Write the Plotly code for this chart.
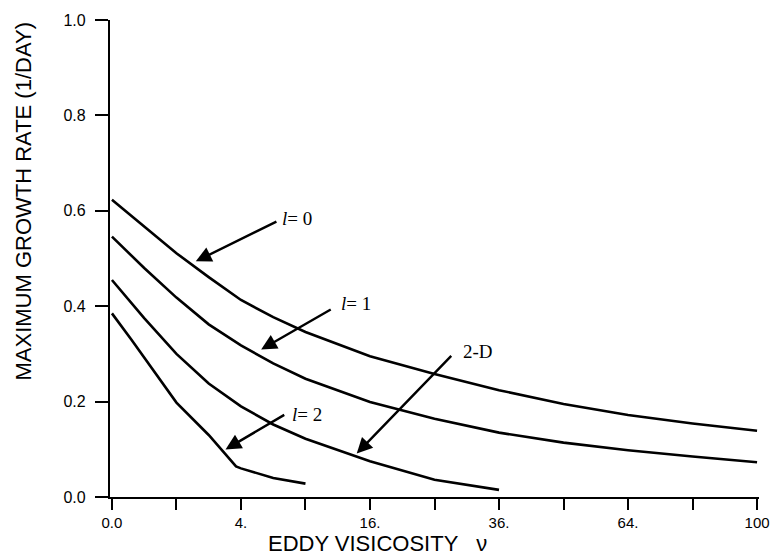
import numpy as np
import plotly.graph_objects as go

# Eddy viscosity values (nu) at which curves are read
nu_main = [0, 0.25, 1, 2.25, 4, 6.25, 9, 16, 25, 36, 49, 64, 81, 100]
rate_l0 = [0.623, 0.568, 0.511, 0.461, 0.413, 0.377, 0.346, 0.295, 0.258, 0.224, 0.195, 0.172, 0.154, 0.139]
rate_l1 = [0.546, 0.480, 0.418, 0.362, 0.318, 0.280, 0.248, 0.199, 0.164, 0.135, 0.114, 0.098, 0.085, 0.073]
nu_2d = [0, 0.25, 1, 2.25, 4, 6.25, 9, 16, 25, 36]
rate_2d = [0.455, 0.375, 0.300, 0.238, 0.190, 0.152, 0.122, 0.075, 0.036, 0.015]
nu_l2 = [0, 0.09, 1, 2.25, 3.7, 4, 6.25, 9]
rate_l2 = [0.385, 0.330, 0.198, 0.130, 0.064, 0.060, 0.040, 0.028]

x_tick_nu = [0, 1, 4, 9, 16, 25, 36, 49, 64, 81, 100]
x_tick_text = ["0.0", "", "4.", "", "16.", "", "36.", "", "64.", "", "100"]
y_tick_vals = [0.0, 0.2, 0.4, 0.6, 0.8, 1.0]
y_tick_text = ["0.0", "0.2", "0.4", "0.6", "0.8", "1.0"]

# label annotations: (text, nu, rate) for text; arrows: tail (nu, rate) -> head (nu, rate)
labels = [("<i>l</i>= 0", 6.76, 0.583), ("<i>l</i>= 1", 12.39, 0.405),
          ("<i>l</i>= 2", 7.62, 0.174), ("2-D", 29.2, 0.305)]
arrows = [((6.62, 0.579), (1.69, 0.494)),
          ((11.66, 0.395), (5.35, 0.309)),
          ((7.26, 0.174), (3.10, 0.0997)),
          ((27.9, 0.299), (14.4, 0.091))]

sq = lambda v: np.sqrt(np.asarray(v, dtype=float))

fig = go.Figure()
line = dict(color="black", width=2.6)
for nu, r in [(nu_main, rate_l0), (nu_main, rate_l1), (nu_2d, rate_2d), (nu_l2, rate_l2)]:
    fig.add_trace(go.Scatter(x=sq(nu), y=r, mode="lines", line=line, showlegend=False,
                             hoverinfo="skip"))

annotations = []
for t, n, r in labels:
    annotations.append(dict(text=t, x=float(np.sqrt(n)), y=r, xref="x", yref="y",
                            showarrow=False, xanchor="left", yanchor="middle",
                            font=dict(family="Liberation Serif", size=19, color="black")))
for (tn, tr), (hn, hr) in arrows:
    annotations.append(dict(text="", x=float(np.sqrt(hn)), y=hr, ax=float(np.sqrt(tn)), ay=tr,
                            xref="x", yref="y", axref="x", ayref="y", showarrow=True,
                            arrowhead=2, arrowsize=1.3, arrowwidth=2.4, arrowcolor="black",
                            standoff=0, startstandoff=0))

annotations.append(dict(text="MAXIMUM GROWTH RATE (1/DAY)", textangle=-90,
                        x=-0.134, y=0.6195, xref="paper", yref="paper", showarrow=False,
                        xanchor="center", yanchor="middle",
                        font=dict(family="Liberation Sans", size=22, color="black")))
annotations.append(dict(text="EDDY VISICOSITY   \u03bd",
                        x=0.4125, y=-0.0977, xref="paper", yref="paper", showarrow=False,
                        xanchor="center", yanchor="middle",
                        font=dict(family="Liberation Sans", size=22, color="black")))

fig.update_layout(
    width=782, height=556,
    margin=dict(l=110, r=15, t=16, b=59),
    paper_bgcolor="white", plot_bgcolor="white",
    annotations=annotations,
    xaxis=dict(range=[-0.03, 10.03], tickmode="array", tickvals=list(sq(x_tick_nu)),
               ticktext=x_tick_text, ticks="outside", ticklen=11, tickwidth=2,
               tickcolor="black", showline=True, linewidth=2.2, linecolor="black",
               showgrid=False, zeroline=False,
               tickfont=dict(family="Liberation Sans", size=15, color="black")),
    yaxis=dict(range=[0, 1], tickmode="array", tickvals=y_tick_vals, ticktext=y_tick_text,
               ticks="outside", ticklen=13, tickwidth=2, tickcolor="black",
               showline=True, linewidth=2.2, linecolor="black", showgrid=False,
               zeroline=False, ticklabelstandoff=6,
               tickfont=dict(family="Liberation Sans", size=16, color="black")),
)

fig.write_html("out.html")
